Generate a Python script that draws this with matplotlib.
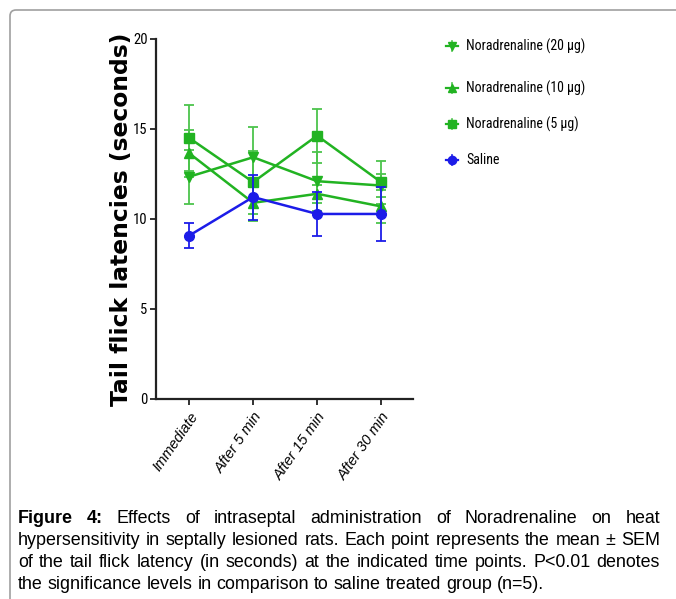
import matplotlib
matplotlib.use('Agg')
import numpy as np
import matplotlib.pyplot as plt
from matplotlib.lines import Line2D
from matplotlib.patches import FancyBboxPatch
from matplotlib.transforms import IdentityTransform

# data
times = ['Immediate', 'After 5 min', 'After 15 min', 'After 30 min']
saline = [9.08, 11.22, 10.28, 10.28]
saline_sem = [0.68, 1.25, 1.2, 1.5]
nor5 = [14.5, 12.05, 14.63, 12.05]
nor5_sem = [1.85, 1.75, 1.5, 1.2]
nor10 = [13.65, 10.9, 11.4, 10.7]
nor10_sem = [1.3, 1.0, 0.5, 0.9]
nor20 = [12.35, 13.43, 12.1, 11.86]
nor20_sem = [1.5, 1.67, 1.65, 0.62]
labels = ['Noradrenaline (20 µg)', 'Noradrenaline (10 µg)',
          'Noradrenaline (5 µg)', 'Saline']

green = '#22b322'
green_err = '#4cc44c'
blue = '#1c1ce8'
narrow = ['Liberation Sans Narrow', 'Roboto Condensed', 'Open Sans Condensed',
          'Liberation Sans']

W, H = 676, 599
fig = plt.figure(figsize=(W/100, H/100), dpi=100)
ax = fig.add_axes([156/W, 1-399/H, 257/W, 360/H])

x = np.arange(len(times))
series = [(nor20, nor20_sem, 'v', green, green_err),
          (nor10, nor10_sem, '^', green, green_err),
          (nor5, nor5_sem, 's', green, green_err),
          (saline, saline_sem, 'o', blue, blue)]
for (vals, sem, m, c, ec), lab in zip(series, labels):
    ax.errorbar(x, vals, yerr=sem, color=c, marker=m, ms=7, lw=1.8,
                ecolor=ec, elinewidth=1.3, capsize=3.5, capthick=1.3,
                label=lab, zorder=3 if c == blue else 2)

ax.set_xlim(-0.52, 3.5)
ax.set_ylim(0, 20)
ax.set_yticks([0, 5, 10, 15, 20])
ax.set_xticks(x)
ax.set_xticklabels(times, rotation=55, ha='right', rotation_mode='anchor',
                   style='italic', fontsize=10.5, family='Liberation Sans')
for t in ax.get_yticklabels():
    t.set_family(narrow)
    t.set_fontsize(10.5)
for s in ['top', 'right']:
    ax.spines[s].set_visible(False)
for s in ['left', 'bottom']:
    ax.spines[s].set_linewidth(1.6)
    ax.spines[s].set_color('#222222')
ax.tick_params(direction='out', length=4, width=1.3, color='#222222', pad=2)
ax.tick_params(axis='x', pad=4)
ax.set_ylabel('Tail flick latencies (seconds)', fontsize=16.8,
              fontweight='bold', family='DejaVu Sans')
ax.yaxis.set_label_coords(-0.09, 0.5)

# legend drawn by hand to keep the uneven spacing
leg_y = [46, 88, 124, 160]
for (vals, sem, m, c, ec), lab, yy in zip(series, labels, leg_y):
    yf = 1 - yy/H
    x0 = 452/W
    fig.add_artist(Line2D([x0-6/W, x0+6/W], [yf, yf], color=c, lw=1.6,
                          transform=fig.transFigure))
    fig.add_artist(Line2D([x0, x0], [yf-5/H, yf+5/H], color=ec, lw=1.2,
                          transform=fig.transFigure))
    fig.add_artist(Line2D([x0], [yf], color=c, marker=m, ms=6,
                          transform=fig.transFigure))
    fig.text(466/W, yf, lab, fontsize=10, family=narrow, va='center')

# frame around the figure (only top-left visible)
fig.add_artist(FancyBboxPatch((10, -20), 720, 609, boxstyle='round,pad=0,rounding_size=6',
                              transform=IdentityTransform(), fill=False,
                              ec='#a0a0a0', lw=1.2))

# caption, justified by hand
cap_lines = [
    ('Figure 4: Effects of intraseptal administration of Noradrenaline on heat', True, 2),
    ('hypersensitivity in septally lesioned rats. Each point represents the mean ± SEM', True, 0),
    ('of the tail flick latency (in seconds) at the indicated time points. P<0.01 denotes', True, 0),
    ('the significance levels in comparison to saline treated group (n=5).', False, 0),
]
base_y = [523, 545, 567, 589]
xl, xr = 18, 660
fs = 12.9
r = fig.canvas.get_renderer()
for (line, just, nbold), by in zip(cap_lines, base_y):
    arts = []
    for i, w in enumerate(line.split(' ')):
        t = fig.text(0, H-by, w, fontsize=fs, family='Liberation Sans',
                     fontweight='bold' if i < nbold else 'normal',
                     transform=IdentityTransform(), va='baseline')
        arts.append(t)
    widths = [t.get_window_extent(r).width for t in arts]
    if just:
        gap = max((xr - xl - sum(widths)) / (len(arts) - 1), 2)
    else:
        gap = 0.278 * fs * 100 / 72
    xx = xl
    for t, w in zip(arts, widths):
        t.set_x(xx)
        xx += w + gap

fig.savefig('out.png', dpi=100)
